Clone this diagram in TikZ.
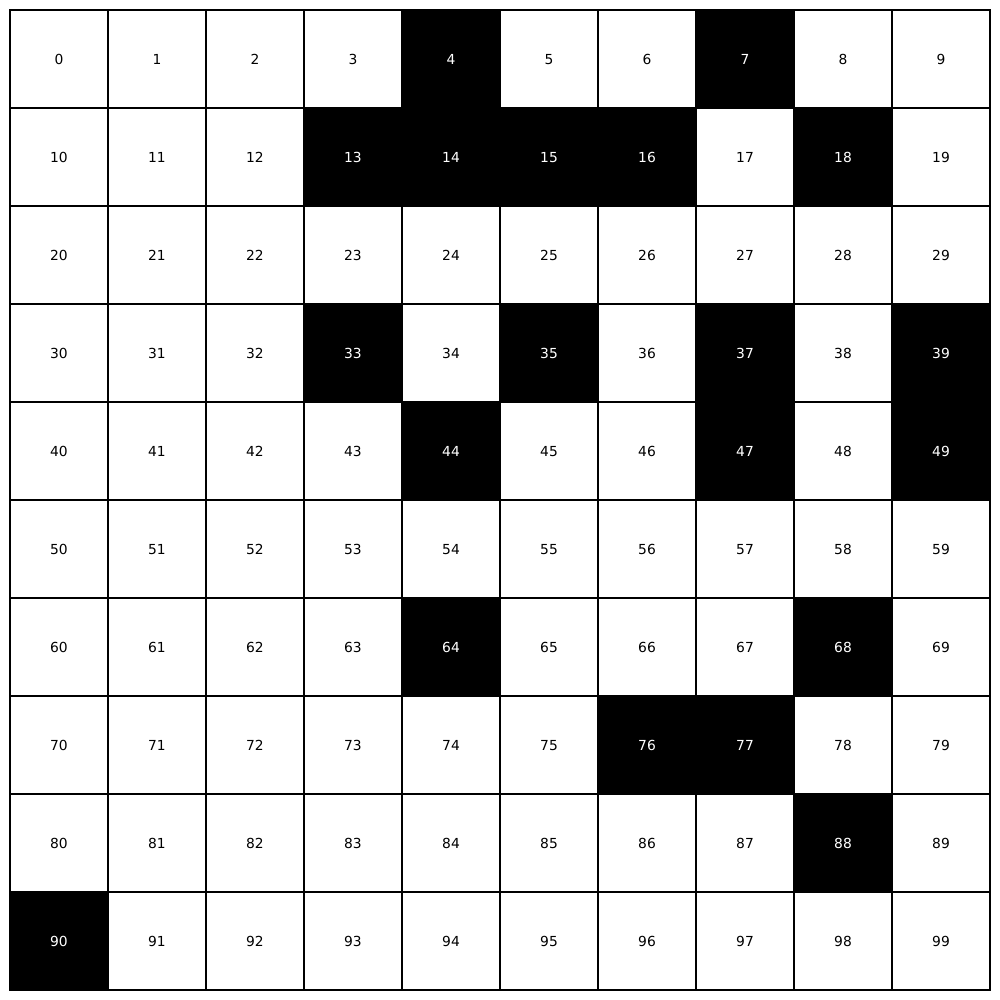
\documentclass[tikz,border=0pt]{standalone}
\usepackage{fontspec}
\usepackage{xstring}
\setmainfont{DejaVu Sans}

\tikzset{
  cell/.style={draw=black, line width=1pt, fill=white, text=black, minimum size=24.892mm, inner sep=0pt, text height=7.6pt, text depth=0pt, font=\fontsize{10}{12}\selectfont},
  darkcell/.style={cell, fill=black, text=white}
}
\def\darkcells{,4,7,13,14,15,16,18,33,35,37,39,44,47,49,64,68,76,77,88,90,}

\begin{document}
\begin{tikzpicture}[x=0.254mm, y=-0.254mm]
    \useasboundingbox[fill=white] (0, 0) rectangle (1000, 1000);

    % Draw the cells
    \foreach \n in {0,...,99} {
        \pgfmathtruncatemacro{\row}{\n/10}
        \pgfmathtruncatemacro{\col}{\n-10*\row}
        \IfSubStr{\darkcells}{,\n,}{\def\look{darkcell}}{\def\look{cell}}
        \node[\look] (c\n) at (59+98*\col, 59+98*\row) {\n};
    }
\end{tikzpicture}
\end{document}
